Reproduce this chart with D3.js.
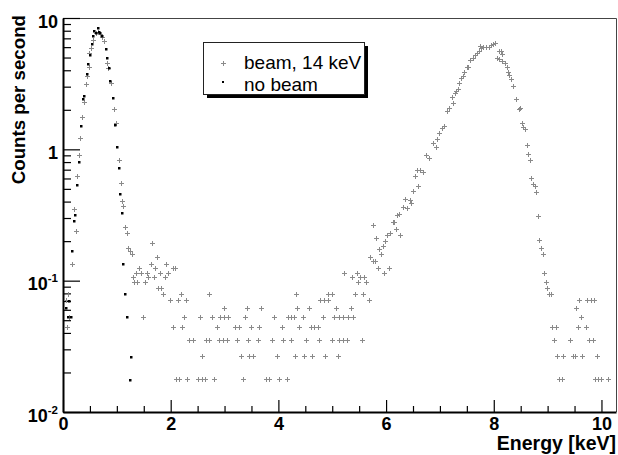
<!DOCTYPE html>
<html>
<head>
<meta charset="utf-8">
<script src="https://cdn.jsdelivr.net/npm/d3@7"></script>
<style>
  body { margin: 0; background: #fff; }
  svg { display: block; font-family: "Liberation Sans", Arial, Helvetica, sans-serif; }
</style>
</head>
<body>
<div id="chart"></div>
<script>
// ---- data (energy in keV, rate in counts per second) ----

// beam, 14 keV: low-rate bins sit on discrete levels (n counts / live time)
const beamLevels = [0.0177, 0.0266, 0.0354, 0.0443, 0.0531, 0.0620, 0.0708, 0.0797,
                    0.0885, 0.0974, 0.106, 0.115, 0.124, 0.133];
const beamLevelEnergies = [
  [2.098, 2.163, 2.308, 2.513, 2.576, 2.637, 2.810, 3.348, 3.770, 3.831, 4.017, 4.154, 9.205, 9.261, 9.879, 9.941, 9.985, 10.126],
  [2.576, 3.300, 3.460, 3.523, 3.980, 4.303, 4.475, 4.630, 4.871, 5.107, 9.168, 9.279, 9.465, 9.508, 9.638, 9.916],
  [2.345, 2.409, 2.656, 2.706, 2.897, 2.966, 3.040, 3.237, 3.441, 3.627, 3.887, 4.091, 4.234, 4.513, 4.748, 4.990, 5.131, 5.205, 5.268, 5.552, 9.118, 9.415, 9.773, 9.837],
  [0.080, 2.048, 2.219, 2.865, 3.194, 3.268, 3.491, 3.645, 4.061, 4.388, 4.605, 4.667, 4.730, 9.081, 9.155, 9.558, 9.712],
  [0.111, 1.480, 2.247, 2.544, 2.761, 2.915, 2.995, 3.070, 3.380, 3.924, 4.173, 4.234, 4.295, 4.451, 4.834, 5.038, 5.125, 5.205, 5.298, 5.391, 9.619],
  [2.995, 3.411, 3.677, 4.351, 4.574, 5.075, 5.343, 9.526],
  [0.056, 1.987, 2.136, 2.284, 4.772, 4.847, 4.921, 5.677, 9.588, 9.731, 9.799, 9.866],
  [0.093, 1.863, 2.191, 2.720, 4.327, 4.921, 4.995, 5.428, 5.571],
  [1.770, 1.820],
  [1.318, 1.380, 1.517, 5.484, 5.627],
  [1.294, 1.584, 1.690, 1.894, 5.367, 5.515, 5.590],
  [1.356, 1.448, 1.565, 1.801, 1.955, 5.224, 5.460, 5.967],
  [1.411, 1.708, 2.037, 2.080, 5.855, 6.060],
  [0.167, 1.629, 1.913]
];

// beam, 14 keV: low energy noise peak
const beamLowPeak = [
  [0.204, 0.354], [0.236, 0.238], [0.260, 0.630], [0.293, 0.913], [0.319, 1.215], [0.353, 1.75],
  [0.381, 2.30], [0.418, 3.13], [0.442, 3.62], [0.477, 4.26], [0.488, 5.38], [0.526, 5.88],
  [0.563, 6.80], [0.607, 7.65], [0.650, 7.80], [0.678, 7.55], [0.715, 7.17], [0.756, 6.74],
  [0.823, 4.58], [0.841, 4.18], [0.891, 3.22], [0.947, 2.02], [0.979, 1.60], [1.031, 0.824],
  [1.071, 0.559], [1.096, 0.406], [1.123, 0.373], [1.153, 0.255], [1.185, 0.229], [1.211, 0.176],
  [1.240, 0.167], [1.276, 0.159], [1.658, 0.195], [1.749, 0.1505]
];

// beam, 14 keV: main peak around 8 keV
const beamMainPeak = [
  [5.701, 0.151], [5.753, 0.1416], [5.798, 0.1416], [5.757, 0.265], [5.822, 0.213], [5.872, 0.174],
  [5.914, 0.159], [5.937, 0.185], [5.974, 0.202], [6.026, 0.2225], [6.078, 0.2305], [6.123, 0.282],
  [6.147, 0.282], [6.184, 0.249], [6.212, 0.316], [6.240, 0.320], [6.267, 0.222], [6.308, 0.367],
  [6.351, 0.416], [6.383, 0.355], [6.436, 0.411], [6.472, 0.387], [6.498, 0.479], [6.537, 0.626],
  [6.568, 0.696], [6.598, 0.5255], [6.639, 0.698], [6.682, 0.675], [6.747, 0.900], [6.797, 0.865],
  [6.871, 1.123], [6.921, 1.047], [6.951, 1.192], [6.988, 1.331], [7.032, 1.445], [7.075, 1.518],
  [7.131, 1.975], [7.177, 2.053], [7.218, 2.50], [7.246, 2.253], [7.279, 2.685], [7.307, 2.78],
  [7.335, 2.86], [7.363, 3.215], [7.400, 3.49], [7.422, 3.636], [7.456, 3.88], [7.508, 4.20],
  [7.530, 4.26], [7.567, 4.75], [7.605, 5.00], [7.645, 5.23], [7.683, 5.38], [7.731, 5.655],
  [7.753, 6.07], [7.772, 5.88], [7.805, 6.045], [7.855, 6.01], [7.905, 6.045], [7.942, 6.23],
  [7.991, 6.34], [8.028, 6.42],
  [8.054, 4.96], [8.102, 4.85], [8.102, 5.64], [8.125, 5.64], [8.152, 5.32], [8.152, 4.73],
  [8.202, 4.54], [8.239, 4.21], [8.264, 3.90], [8.288, 3.68], [8.314, 3.41], [8.362, 3.03],
  [8.418, 2.40], [8.474, 2.02], [8.492, 2.06], [8.524, 1.573], [8.552, 1.492], [8.579, 1.44],
  [8.616, 1.078], [8.644, 0.929], [8.678, 0.824], [8.697, 0.601], [8.737, 0.542], [8.765, 0.5255],
  [8.789, 0.477], [8.817, 0.3105], [8.845, 0.204], [8.876, 0.177], [8.908, 0.1585], [8.936, 0.114],
  [8.969, 0.0976], [8.994, 0.0886], [9.034, 0.0797], [9.066, 0.0797]
];

// no beam
const noBeam = [
  [0.050, 0.0615], [0.098, 0.0531], [0.111, 0.0703], [0.143, 0.0531], [0.173, 0.167], [0.204, 0.283],
  [0.228, 0.318], [0.266, 0.532], [0.292, 0.807], [0.334, 1.505], [0.371, 2.43], [0.399, 2.55],
  [0.440, 3.73], [0.470, 4.50], [0.501, 5.23], [0.533, 6.31], [0.552, 7.29], [0.581, 8.00],
  [0.618, 7.65], [0.644, 8.36], [0.674, 7.78], [0.693, 7.65], [0.730, 7.33], [0.795, 5.78],
  [0.823, 4.99], [0.854, 4.18], [0.873, 3.33], [0.923, 2.46], [0.971, 1.52], [0.999, 1.04],
  [1.034, 0.720], [1.064, 0.454], [1.090, 0.327], [1.123, 0.133], [1.151, 0.079], [1.183, 0.0528],
  [1.239, 0.0175], [1.272, 0.0263]
];

const xMajorTicks = [0, 2, 4, 6, 8, 10];
const yMajorTicks = [0.01, 0.1, 1, 10];
const yTickLabels = [["10", "-2"], ["10", "-1"], ["1", ""], ["10", ""]];
const legendLabels = ["beam, 14 keV", "no beam"];

// ---- build beam series ----
var beam = [];
beamLevels.forEach((rate, i) => {
  beamLevelEnergies[i].forEach(e => beam.push([e, rate]));
});
beam = beam.concat(beamLowPeak, beamMainPeak);

// ---- svg ----
const W = 618, H = 455;
const svg = d3.select("#chart").append("svg")
  .attr("width", W)
  .attr("height", H);

const x = d3.scaleLinear().domain([0, 10.27]).range([63, 616]);
const y = d3.scaleLog().domain([0.01, 10]).range([412, 18]);

// frame top/right
svg.append("path")
  .attr("d", `M${x(0)},18.5H616.5V${y(0.01)}`)
  .attr("fill", "none")
  .attr("stroke", "#444")
  .attr("stroke-width", 1);

// x minor ticks every 0.5 keV
const xMinor = d3.range(0.5, 10.27, 0.5).filter(v => v % 2 !== 0);
svg.append("g")
  .attr("transform", `translate(0,${y(0.01)})`)
  .call(d3.axisBottom(x).tickValues(xMinor).tickSizeInner(-6).tickSizeOuter(0).tickFormat(""))
  .call(g => g.select(".domain").remove())
  .selectAll("line").attr("stroke-width", 1.2);

// x major ticks + labels
const gx = svg.append("g")
  .attr("transform", `translate(0,${y(0.01)})`)
  .call(d3.axisBottom(x).tickValues(xMajorTicks).tickSizeInner(-12).tickSizeOuter(0).tickPadding(5).tickFormat(d3.format("d")));
gx.select(".domain").attr("stroke-width", 2);
gx.selectAll("line").attr("stroke-width", 1.2);
gx.selectAll("text")
  .attr("fill", "#000")
  .style("font-size", "18px")
  .style("font-weight", "bold")
  .style("font-family", "'Liberation Sans', Arial, sans-serif");

// y minor ticks 2..9 per decade
const yMinor = [];
[0.01, 0.1, 1].forEach(d => { for (let k = 2; k <= 9; k++) yMinor.push(d * k); });
svg.append("g")
  .attr("transform", `translate(${x(0)},0)`)
  .call(d3.axisLeft(y).tickValues(yMinor).tickSizeInner(-8).tickSizeOuter(0).tickFormat(""))
  .call(g => g.select(".domain").remove())
  .selectAll("line").attr("stroke-width", 1.2);

// y major ticks + labels
const gy = svg.append("g")
  .attr("transform", `translate(${x(0)},0)`)
  .call(d3.axisLeft(y).tickValues(yMajorTicks).tickSizeInner(-17).tickSizeOuter(0).tickPadding(5).tickFormat(""));
gy.select(".domain").attr("stroke-width", 2);
gy.selectAll("line").attr("stroke-width", 1.2);
gy.selectAll("text").each(function(d) {
  const lab = yTickLabels[yMajorTicks.indexOf(d)];
  const t = d3.select(this)
    .attr("fill", "#000")
    .attr("dy", "0.5em")
    .style("font-size", "18px")
    .style("font-weight", "bold")
    .style("font-family", "'Liberation Sans', Arial, sans-serif");
  t.text(lab[0]);
  if (lab[1]) {
    t.append("tspan")
      .attr("dy", -8)
      .style("font-size", "11.5px")
      .text(lab[1]);
  }
});

// axis titles
svg.append("text")
  .attr("x", 616)
  .attr("y", 450)
  .attr("text-anchor", "end")
  .style("font-size", "19.5px")
  .style("font-weight", "bold")
  .text("Energy [keV]");

svg.append("text")
  .attr("transform", "translate(25,15) rotate(-90)")
  .attr("text-anchor", "end")
  .style("font-size", "18.7px")
  .style("font-weight", "bold")
  .text("Counts per second");

// ---- markers ----
const plot = svg.append("g");

function drawCross(sel) {
  sel.attr("transform", d => `translate(${Math.round(d[0]) + 0.5},${Math.round(d[1]) + 0.5})`)
    .attr("d", "M-2.5,0H2.5M0,-2.5V2.5")
    .attr("fill", "none")
    .attr("stroke", "#8a8a8a")
    .attr("stroke-width", 1);
}

plot.selectAll("path.beam")
  .data(beam.map(d => [x(d[0]), y(d[1])]))
  .join("path")
  .attr("class", "beam")
  .call(drawCross);

plot.selectAll("rect.nobeam")
  .data(noBeam)
  .join("rect")
  .attr("class", "nobeam")
  .attr("x", d => Math.round(x(d[0])) - 1)
  .attr("y", d => Math.round(y(d[1])) - 1)
  .attr("width", 2.5)
  .attr("height", 2.5)
  .attr("fill", "#000");

// ---- legend ----
const legend = svg.append("g");
legend.append("rect")
  .attr("x", 207).attr("y", 46)
  .attr("width", 161).attr("height", 52)
  .attr("fill", "#000");
legend.append("rect")
  .attr("x", 203.5).attr("y", 42.5)
  .attr("width", 161).attr("height", 52)
  .attr("fill", "#fff")
  .attr("stroke", "#222")
  .attr("stroke-width", 1);

legend.append("path")
  .datum([223, 63])
  .call(drawCross);
legend.append("rect")
  .attr("x", 222).attr("y", 81)
  .attr("width", 2).attr("height", 2)
  .attr("fill", "#000");

legend.selectAll("text")
  .data(legendLabels)
  .join("text")
  .attr("x", 244)
  .attr("y", (d, i) => 69 + i * 22)
  .style("font-size", "19px")
  .text(d => d);
</script>
</body>
</html>
